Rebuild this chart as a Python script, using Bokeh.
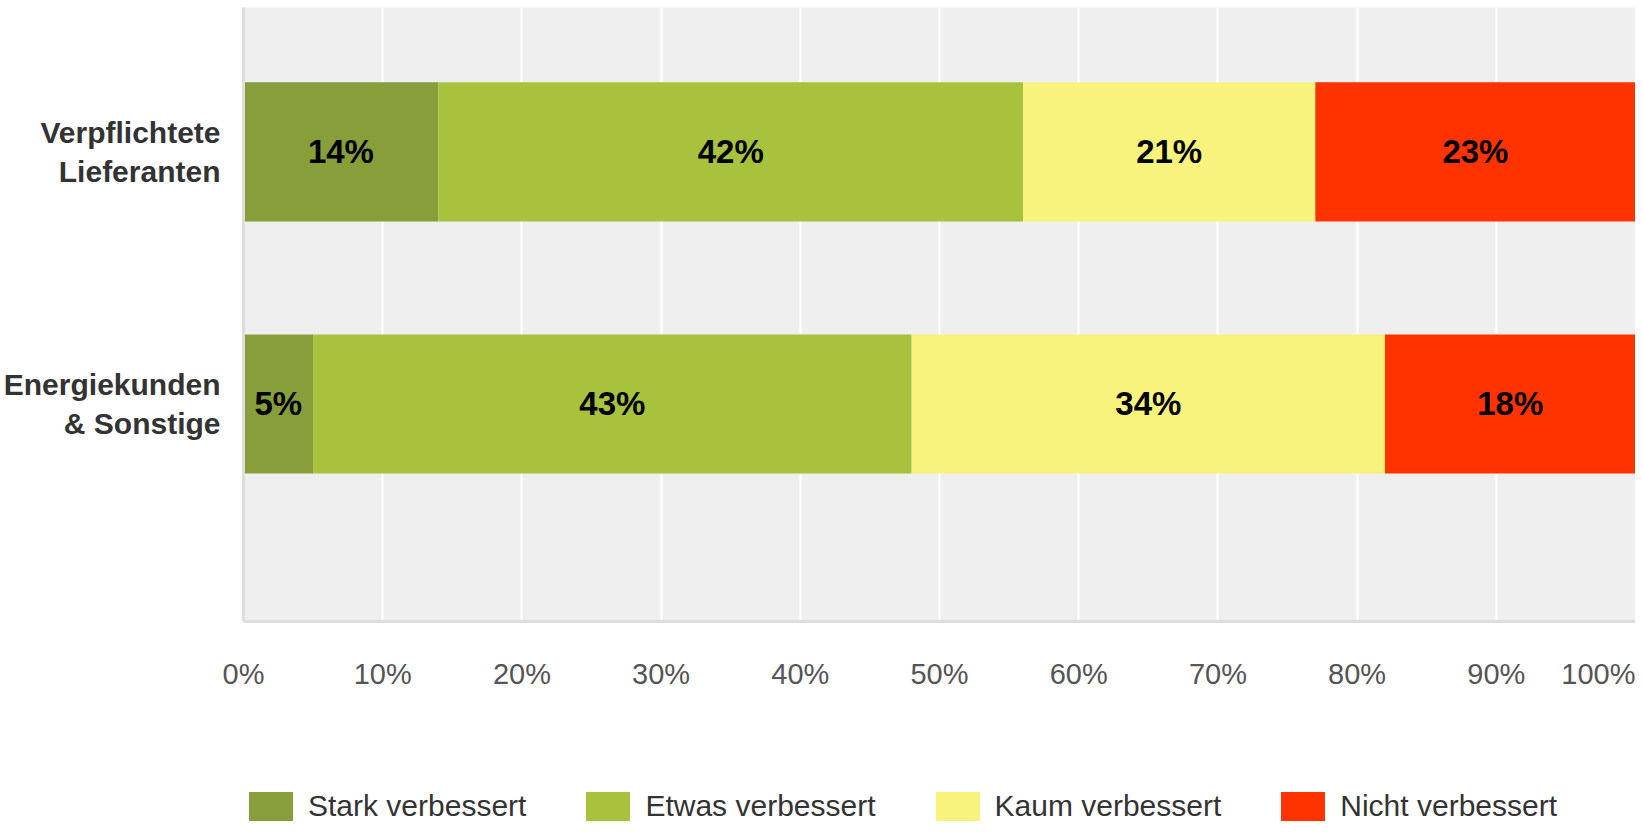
from bokeh.plotting import figure
from bokeh.layouts import column
from bokeh.models import ColumnDataSource, Range1d, FixedTicker, Legend, LegendItem
from bokeh.core.properties import value
from bokeh.embed import file_html
from bokeh.resources import INLINE

categories = ["Verpflichtete\nLieferanten", "Energiekunden\n& Sonstige"]
series = ["Stark verbessert", "Etwas verbessert", "Kaum verbessert", "Nicht verbessert"]
stark = [14, 5]
etwas = [42, 43]
kaum = [21, 34]
nicht = [23, 18]
colors = ["#879e3a", "#a8c23d", "#f7f37d", "#ff3300"]
x_ticks = [0, 10, 20, 30, 40, 50, 60, 70, 80, 90, 100]

ypos = list(range(len(categories)))
cols = ["stark", "etwas", "kaum", "nicht"]
data = {"y": ypos, "stark": stark, "etwas": etwas, "kaum": kaum, "nicht": nicht}
src = ColumnDataSource(data)

p = figure(width=1635, height=780, output_backend="svg", toolbar_location=None,
           x_range=Range1d(0, 100), y_range=Range1d(1.863, -0.573),
           min_border_left=243, min_border_right=0, min_border_top=7, min_border_bottom=159)
p.background_fill_color = "#efefef"
p.border_fill_color = "white"
p.outline_line_color = None

renderers = p.hbar_stack(cols, y="y", height=0.552, color=colors, source=src, line_color=None)

# segment labels
lx, ly, lt = [], [], []
for i in range(len(categories)):
    acc = 0
    for vals in (stark, etwas, kaum, nicht):
        v = vals[i]
        lx.append(acc + v / 2)
        ly.append(ypos[i])
        lt.append(f"{v}%")
        acc += v
p.text(x=lx, y=ly, text=lt, text_align="center", text_baseline="middle",
       text_font=value("Liberation Sans"), text_font_style="bold",
       text_font_size="33px", text_color="black")

# grid / axes
p.ygrid.grid_line_color = None
p.xgrid.grid_line_color = "white"
p.xgrid.grid_line_width = 2
p.xaxis.ticker = FixedTicker(ticks=x_ticks)
p.xaxis.major_label_overrides = {t: f"{t}%" for t in x_ticks}
p.xaxis.major_label_text_font = "Liberation Sans"
p.xaxis.major_label_text_font_size = "29px"
p.xaxis.major_label_text_color = "#555555"
p.xaxis.major_label_standoff = 36
p.xaxis.major_tick_line_color = None
p.xaxis.major_tick_out = 0
p.xaxis.major_tick_in = 0
p.xaxis.minor_tick_line_color = None
p.xaxis.minor_tick_out = 0
p.xaxis.axis_line_color = "#dddddd"
p.xaxis.axis_line_width = 3

p.yaxis.ticker = FixedTicker(ticks=ypos)
p.yaxis.major_label_overrides = {i: c for i, c in zip(ypos, categories)}
p.yaxis.major_label_text_font = "Liberation Sans"
p.yaxis.major_label_text_font_style = "bold"
p.yaxis.major_label_text_font_size = "30px"
p.yaxis.major_label_text_color = "#333333"
p.yaxis.major_label_text_align = "right"
p.yaxis.major_label_standoff = 23
p.yaxis.major_tick_line_color = None
p.yaxis.major_tick_out = 0
p.yaxis.major_tick_in = 0
p.yaxis.minor_tick_line_color = None
p.yaxis.minor_tick_out = 0
p.yaxis.axis_line_color = "#dddddd"
p.yaxis.axis_line_width = 3

# legend strip below the chart
lg = figure(width=1635, height=44, output_backend="svg", toolbar_location=None,
            x_range=Range1d(0, 1), y_range=Range1d(0, 1),
            x_axis_location=None, y_axis_location=None,
            min_border_left=225, min_border_right=0, min_border_top=8, min_border_bottom=0)
lg.outline_line_color = None
lg.background_fill_color = "white"
lg.border_fill_color = "white"
lg.grid.grid_line_color = None
items = []
nan = float("nan")
for s, c in zip(series, colors):
    r = lg.rect(x=[nan], y=[nan], width=0, height=0, fill_color=c, line_color=None)
    items.append(LegendItem(label=s, renderers=[r]))
legend = Legend(items=items, orientation="horizontal", location="top_left",
                glyph_width=55, glyph_height=36, label_height=36,
                label_standoff=10, spacing=54, padding=0, margin=0,
                label_text_font="Liberation Sans", label_text_font_size="30px",
                label_text_color="#333333", border_line_color=None,
                background_fill_alpha=0)
lg.add_layout(legend, "center")

layout = column(p, lg, spacing=0)
open("out.html", "w").write(file_html(layout, INLINE))
